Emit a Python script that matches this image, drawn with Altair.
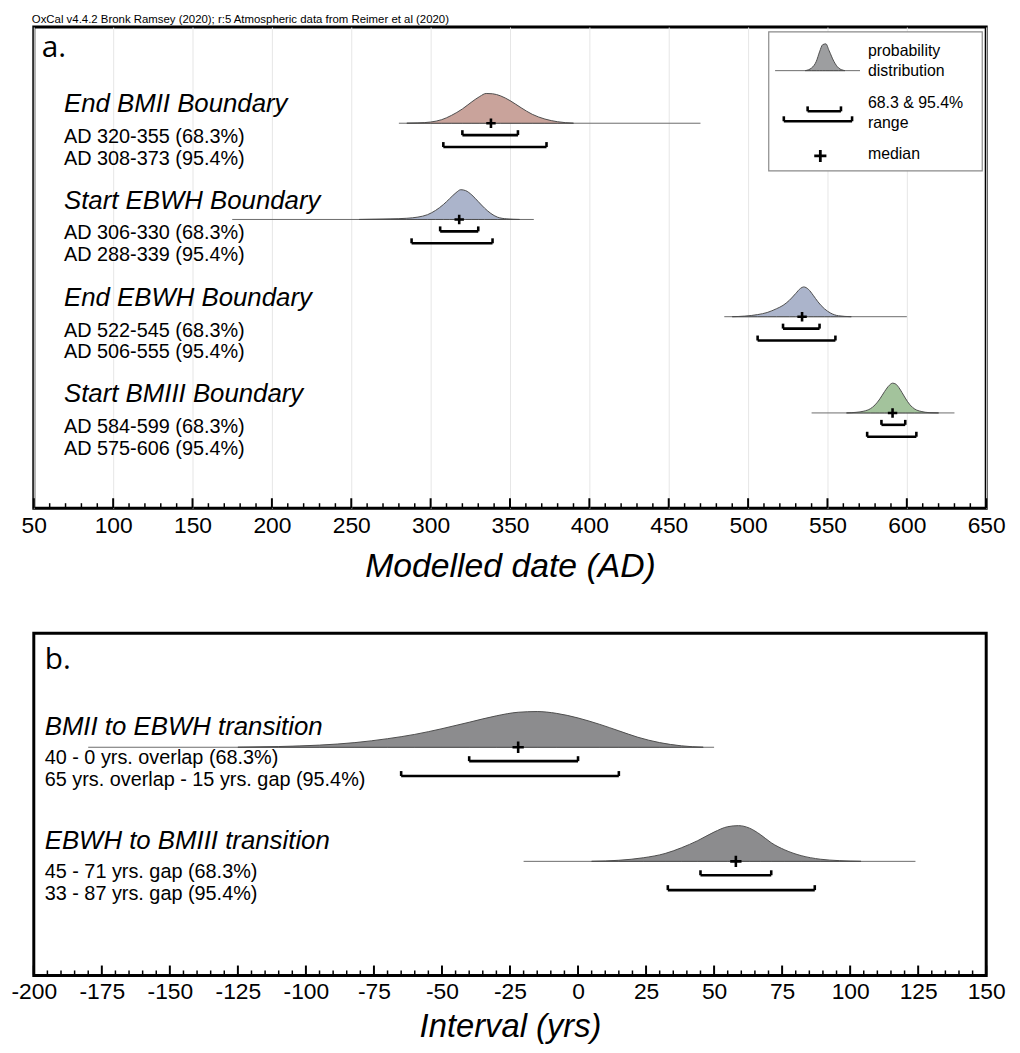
import altair as alt
import pandas as pd

# ------------------------------------------------------------------ data
header = "OxCal v4.4.2 Bronk Ramsey (2020); r:5 Atmospheric data from Reimer et al (2020)"

# panel a: boundaries (AD)
a_names = ["End BMII Boundary", "Start EBWH Boundary", "End EBWH Boundary", "Start BMIII Boundary"]
a_text68 = ["AD 320-355 (68.3%)", "AD 306-330 (68.3%)", "AD 522-545 (68.3%)", "AD 584-599 (68.3%)"]
a_text95 = ["AD 308-373 (95.4%)", "AD 288-339 (95.4%)", "AD 506-555 (95.4%)", "AD 575-606 (95.4%)"]
a_lo68 = [320, 306, 522, 584]
a_hi68 = [355, 330, 545, 599]
a_lo95 = [308, 288, 506, 575]
a_hi95 = [373, 339, 555, 606]
a_median = [338, 318, 534, 591]
a_span_lo = [280, 175, 485, 540]
a_span_hi = [470, 365, 600, 630]

end_bmii_x = [285, 292, 300, 307, 313, 320, 326, 331, 335, 339, 344, 350, 357, 364, 372, 380, 390]
end_bmii_p = [0, 0.01, 0.04, 0.12, 0.26, 0.48, 0.72, 0.9, 1.0, 0.99, 0.92, 0.76, 0.52, 0.3, 0.14, 0.05, 0]
start_ebwh_x = [255, 265, 275, 285, 292, 298, 303, 308, 312, 316, 319, 322, 326, 330, 334, 338, 342, 348, 356]
start_ebwh_p = [0, 0.01, 0.02, 0.04, 0.08, 0.16, 0.3, 0.5, 0.7, 0.9, 1.0, 0.97, 0.82, 0.6, 0.38, 0.2, 0.08, 0.02, 0]
end_ebwh_x = [490, 498, 506, 512, 518, 522, 526, 530, 533, 535, 538, 541, 544, 548, 552, 557, 565]
end_ebwh_p = [0, 0.02, 0.07, 0.14, 0.27, 0.38, 0.55, 0.78, 0.95, 1.0, 0.92, 0.72, 0.5, 0.27, 0.12, 0.03, 0]
start_bmiii_x = [562, 568, 573, 577, 580, 583, 586, 589, 591, 593, 595, 597, 599, 602, 605, 609, 614, 620]
start_bmiii_p = [0, 0.02, 0.06, 0.14, 0.27, 0.47, 0.72, 0.93, 1.0, 0.97, 0.85, 0.68, 0.5, 0.27, 0.13, 0.05, 0.01, 0]
a_dens = [(end_bmii_x, end_bmii_p), (start_ebwh_x, start_ebwh_p),
          (end_ebwh_x, end_ebwh_p), (start_bmiii_x, start_bmiii_p)]
a_colors = ["#c9a39b", "#abb4cb", "#abb4cb", "#a3c39c"]

# legend (panel a)
legend_x = [536, 540, 543, 545, 547, 549, 551, 554, 557, 561]
legend_p = [0, 0.1, 0.35, 0.7, 0.97, 1.0, 0.75, 0.35, 0.1, 0]
legend_span = [517, 570.5]
legend_lo68, legend_hi68 = 537.5, 558.5
legend_lo95, legend_hi95 = 522.5, 565.5
legend_median = 545.5
legend_labels = ["probability", "distribution", "68.3 & 95.4%", "range", "median"]

# panel b: intervals (yrs)
b_names = ["BMII to EBWH transition", "EBWH to BMIII transition"]
b_text68 = ["40 - 0 yrs. overlap (68.3%)", "45 - 71 yrs. gap (68.3%)"]
b_text95 = ["65 yrs. overlap - 15 yrs. gap (95.4%)", "33 - 87 yrs. gap (95.4%)"]
b_lo68 = [-40, 45]
b_hi68 = [0, 71]
b_lo95 = [-65, 33]
b_hi95 = [15, 87]
b_median = [-22, 58]
b_span_lo = [-180, -20]
b_span_hi = [50, 124]
bmii_ebwh_x = [-125, -110, -95, -82, -70, -60, -50, -40, -30, -22, -15, -8, 0, 8, 15, 22, 30, 38, 46]
bmii_ebwh_p = [0, 0.02, 0.06, 0.13, 0.24, 0.36, 0.52, 0.7, 0.88, 0.98, 1.0, 0.95, 0.82, 0.64, 0.46, 0.28, 0.13, 0.04, 0]
ebwh_bmiii_x = [5, 15, 24, 32, 38, 44, 50, 55, 59, 63, 67, 71, 76, 82, 89, 96, 104]
ebwh_bmiii_p = [0, 0.03, 0.1, 0.22, 0.38, 0.58, 0.82, 0.97, 1.0, 0.93, 0.75, 0.52, 0.32, 0.16, 0.06, 0.02, 0]
b_dens = [(bmii_ebwh_x, bmii_ebwh_p), (ebwh_bmiii_x, ebwh_bmiii_p)]
b_colors = ["#8c8c8e", "#8c8c8e"]

# ------------------------------------------------------------------ layout
FONT = "Liberation Sans"
W = 960
HA, HB = 485, 345
A_BASE = [97, 194, 292, 389]
A_PEAK = 30
B_BASE = [115, 230]
B_PEAK = 36
PLUS = "M-1,0L1,0M0,-1L0,1"


def axis_x(values, title, grid, label_pad, title_pad, title_size):
    return alt.Axis(values=values, title=title, grid=grid, gridColor="#e6e6e6", gridWidth=1,
                    ticks=False, domain=False, labelFont=FONT, labelFontSize=23,
                    labelColor="black", labelPadding=label_pad, labelFlush=False, labelOverlap=False,
                    labelBound=False, labelExpr="replace(datum.label, '\u2212', '-')",
                    titleFont=FONT, titleFontSize=title_size, titleFontStyle="italic",
                    titleFontWeight="normal", titleColor="black", titlePadding=title_pad)


def panel(prefix, xenc, yenc, H, names, t68, t95, lo68, hi68, lo95, hi95, med, slo, shi, dens, colors,
          base, peak, off68, off95, text_x, toffs, tsize, plus_size, majors, minors, letter, letter_x,
          letter_y, extra=None):
    ids = [f"{prefix}{i}" for i in range(len(names))]
    drows = []
    for i, (xs, ps) in enumerate(dens):
        for xv, pv in zip(xs, ps):
            drows.append({"s": ids[i], "x": xv, "y": base[i] - pv * peak, "yb": base[i]})
    ddf = pd.DataFrame(drows)
    span = pd.DataFrame({"x": slo, "x2": shi, "y": base})
    hb, vb = [], []
    for i in range(len(names)):
        for lo, hi, off in ((lo68[i], hi68[i], off68), (lo95[i], hi95[i], off95)):
            yb = base[i] + off
            hb.append({"x": lo, "x2": hi, "y": yb})
            vb.append({"x": lo, "y": yb, "y2": yb - 5})
            vb.append({"x": hi, "y": yb, "y2": yb - 5})
    med_df = pd.DataFrame({"x": med, "y": base})
    trows = []
    for i in range(len(names)):
        trows.append({"x": text_x, "y": base[i] + toffs[0], "t": names[i], "k": "title"})
        trows.append({"x": text_x, "y": base[i] + toffs[1], "t": t68[i], "k": "r"})
        trows.append({"x": text_x, "y": base[i] + toffs[2], "t": t95[i], "k": "r"})
    tdf = pd.DataFrame(trows)

    layers = [
        alt.Chart(span).mark_rule(color="#6b6b6b", strokeWidth=1).encode(x=xenc, x2="x2:Q", y=yenc),
        alt.Chart(ddf).mark_area(interpolate="monotone", stroke="#4d4d4d", strokeWidth=1, opacity=1).encode(
            x=xenc, y=yenc, y2="yb:Q",
            color=alt.Color("s:N", scale=alt.Scale(domain=ids, range=colors), legend=None)),
        alt.Chart(pd.DataFrame(hb)).mark_rule(color="black", strokeWidth=2.6).encode(x=xenc, x2="x2:Q", y=yenc),
        alt.Chart(pd.DataFrame(vb)).mark_rule(color="black", strokeWidth=2.6).encode(x=xenc, y=yenc, y2="y2:Q"),
        alt.Chart(med_df).mark_point(shape=PLUS, size=plus_size, strokeWidth=2.6, color="black",
                                     filled=False, opacity=1).encode(x=xenc, y=yenc),
        alt.Chart(tdf[tdf.k == "title"]).mark_text(align="left", baseline="middle", font=FONT,
                                                   fontSize=tsize[0], fontStyle="italic", color="black").encode(
            x=xenc, y=yenc, text="t:N"),
        alt.Chart(tdf[tdf.k == "r"]).mark_text(align="left", baseline="middle", font=FONT,
                                               fontSize=tsize[1], color="black").encode(
            x=xenc, y=yenc, text="t:N"),
        alt.Chart(pd.DataFrame({"x": [letter_x], "y": [letter_y], "t": [letter]})).mark_text(
            align="left", baseline="alphabetic", font="Open Sans", fontSize=30, color="black").encode(
            x=xenc, y=yenc, text="t:N"),
        alt.Chart(pd.DataFrame({"x": majors})).mark_rule(color="black", strokeWidth=2).encode(
            x=xenc, y=alt.value(H), y2=alt.value(H - 10)),
        alt.Chart(pd.DataFrame({"x": minors})).mark_rule(color="black", strokeWidth=1.5).encode(
            x=xenc, y=alt.value(H), y2=alt.value(H - 5)),
    ]
    if extra:
        layers += extra
    return alt.layer(*layers).properties(width=W, height=H)


# ---- panel a
a_major = list(range(50, 651, 50))
a_minor = [v for v in range(50, 651, 10) if v % 50 != 0]
xa = alt.X("x:Q", scale=alt.Scale(domain=[50, 650], nice=False, zero=False),
           axis=axis_x(a_major, "Modelled date (AD)", True, 7, 12, 34))
ya = alt.Y("y:Q", scale=alt.Scale(domain=[0, HA], reverse=True, nice=False, zero=False), axis=None)

# legend layers
box = pd.DataFrame({"x": [513], "x2": [647.5], "y": [5], "y2": [145]})
leg_d = pd.DataFrame({"x": legend_x, "y": [44 - p * 27 for p in legend_p], "yb": [44] * len(legend_x)})
leg_span = pd.DataFrame({"x": [legend_span[0]], "x2": [legend_span[1]], "y": [44]})
leg_hb = pd.DataFrame({"x": [legend_lo68, legend_lo95], "x2": [legend_hi68, legend_hi95], "y": [85, 95]})
leg_vb = pd.DataFrame({"x": [legend_lo68, legend_hi68, legend_lo95, legend_hi95],
                       "y": [85, 85, 95, 95], "y2": [80, 80, 90, 90]})
leg_t = pd.DataFrame({"x": [575.5] * 5, "y": [24, 44, 77, 97, 128], "t": legend_labels})
leg_m = pd.DataFrame({"x": [legend_median], "y": [130]})
legend_layers = [
    alt.Chart(box).mark_rect(fill="white", stroke="#8a8a8a", strokeWidth=1.2).encode(
        x=xa, x2="x2:Q", y=ya, y2="y2:Q"),
    alt.Chart(leg_span).mark_rule(color="#6b6b6b", strokeWidth=1).encode(x=xa, x2="x2:Q", y=ya),
    alt.Chart(leg_d).mark_area(interpolate="monotone", fill="#9d9ea0", stroke="#4d4d4d",
                               strokeWidth=1).encode(x=xa, y=ya, y2="yb:Q"),
    alt.Chart(leg_hb).mark_rule(color="black", strokeWidth=2.6).encode(x=xa, x2="x2:Q", y=ya),
    alt.Chart(leg_vb).mark_rule(color="black", strokeWidth=2.6).encode(x=xa, y=ya, y2="y2:Q"),
    alt.Chart(leg_m).mark_point(shape=PLUS, size=150, strokeWidth=2.8, color="black", filled=False,
                                opacity=1).encode(x=xa, y=ya),
    alt.Chart(leg_t).mark_text(align="left", baseline="middle", font=FONT, fontSize=16,
                               color="black").encode(x=xa, y=ya, text="t:N"),
]

pa = panel("a", xa, ya, HA, a_names, a_text68, a_text95, a_lo68, a_hi68, a_lo95, a_hi95, a_median,
           a_span_lo, a_span_hi, a_dens, a_colors, A_BASE, A_PEAK, 12, 24, 69, (-19, 14, 36),
           (26, 20), 90, a_major, a_minor, "a.", 55, 30, extra=legend_layers).properties(
    title=alt.TitleParams(header, anchor="start", frame="group", fontSize=11.5, font=FONT,
                          fontWeight="normal", color="black", offset=2, dx=-2))

# ---- panel b
b_major = list(range(-200, 151, 25))
b_minor = [v for v in range(-200, 151, 5) if v % 25 != 0]
xb = alt.X("x:Q", scale=alt.Scale(domain=[-200, 150], nice=False, zero=False),
           axis=axis_x(b_major, "Interval (yrs)", False, 5, 8, 33))
yb = alt.Y("y:Q", scale=alt.Scale(domain=[0, HB], reverse=True, nice=False, zero=False), axis=None)

pb = panel("b", xb, yb, HB, b_names, b_text68, b_text95, b_lo68, b_hi68, b_lo95, b_hi95, b_median,
           b_span_lo, b_span_hi, b_dens, b_colors, B_BASE, B_PEAK, 14, 29, -196, (-20, 11, 33),
           (26, 20), 130, b_major, b_minor, "b.", -196, 36)

chart = alt.vconcat(pa, pb, spacing=46).resolve_scale(color="independent").properties(
    padding={"left": 1, "top": 0, "right": 5, "bottom": 0}
).configure_view(stroke="black", strokeWidth=3)

chart.save("out.html", embed_options={"renderer": "svg", "actions": False})
